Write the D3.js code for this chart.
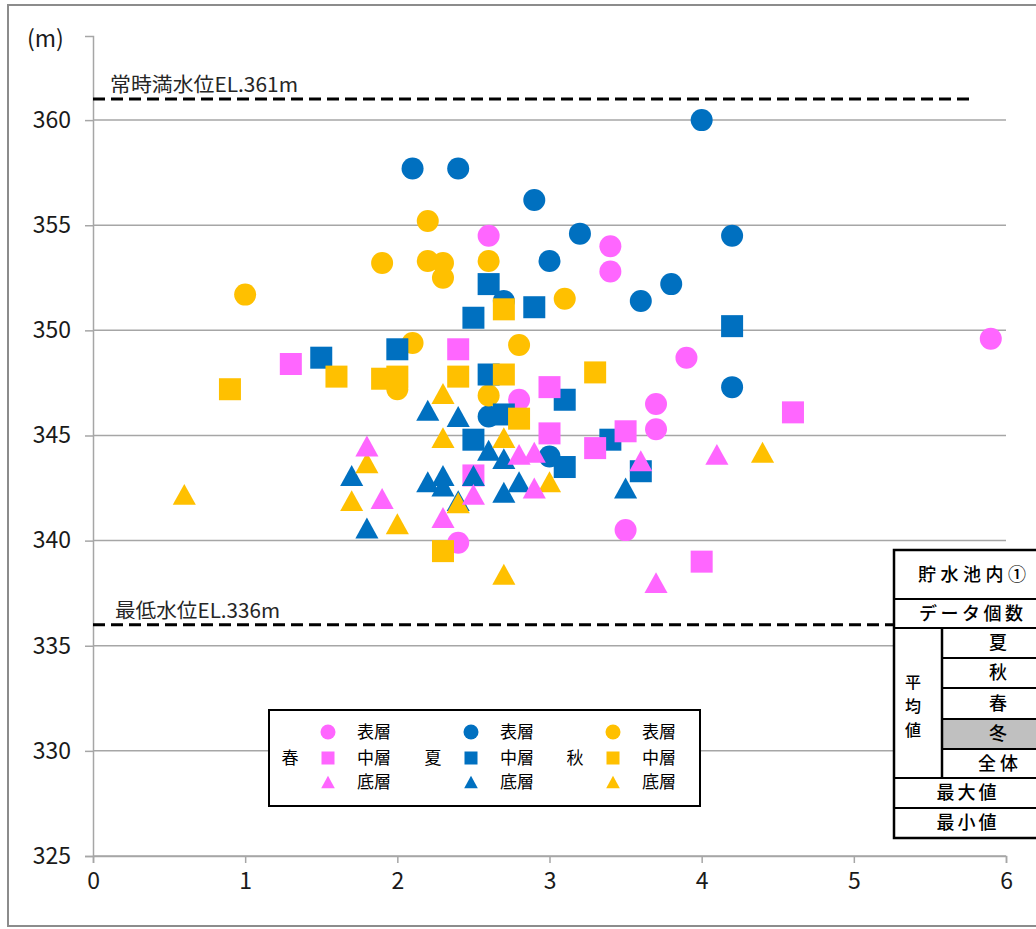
<!DOCTYPE html>
<html><head><meta charset="utf-8">
<script src="https://cdn.jsdelivr.net/npm/d3@7"></script>
<style>html,body{margin:0;padding:0;background:#fff;}svg{display:block;font-family:"Noto Sans CJK JP","Noto Sans",sans-serif;}</style>
</head><body>
<svg id="c" width="1036" height="929"></svg>
<script>
// ---- data ----
const xTicks = [0, 1, 2, 3, 4, 5, 6];
const yTicks = [325, 330, 335, 340, 345, 350, 355, 360];
const yUnit = "(m)";
const refLevels = [361, 336];
const refLabels = ["常時満水位EL.361m", "最低水位EL.336m"];

const seasons = ["春", "夏", "秋"];
const layers = ["表層", "中層", "底層"];

// spring (春)
const springSurface = [[2.6,354.5],[3.4,354.0],[3.4,352.8],[3.9,348.7],[5.9,349.6],[3.7,346.5],[3.7,345.3],[2.8,346.7],[3.5,340.5],[2.4,339.9]];
const springMiddle  = [[1.3,348.4],[2.4,349.1],[3.0,347.3],[3.0,345.1],[3.5,345.2],[3.3,344.4],[2.5,343.1],[4.0,339.0],[4.6,346.1]];
const springBottom  = [[1.8,344.5],[1.9,342.0],[2.3,341.1],[2.5,342.2],[2.8,344.1],[2.9,344.2],[2.9,342.5],[3.6,343.8],[4.1,344.1],[3.7,338.0]];
// summer (夏)
const summerSurface = [[2.1,357.7],[2.4,357.7],[2.9,356.2],[3.2,354.6],[3.0,353.3],[4.0,360.0],[4.2,354.5],[3.8,352.2],[3.6,351.4],[4.2,347.3],[2.7,351.4],[2.6,345.9],[3.0,344.0]];
const summerMiddle  = [[2.6,352.2],[2.5,350.6],[2.9,351.1],[2.0,349.1],[1.5,348.7],[4.2,350.2],[2.6,347.9],[2.5,344.8],[3.1,346.7],[3.4,344.8],[3.6,343.3],[3.1,343.5],[2.7,346.0]];
const summerBottom  = [[1.7,343.1],[1.8,340.6],[2.2,346.2],[2.4,345.9],[2.2,342.8],[2.3,343.1],[2.3,342.6],[2.5,343.1],[2.6,344.3],[2.7,343.9],[2.7,342.3],[2.8,342.8],[2.4,341.9],[3.5,342.5]];
// autumn (秋)
const autumnSurface = [[1.0,351.7],[1.9,353.2],[2.2,355.2],[2.2,353.3],[2.3,353.2],[2.3,352.5],[2.6,353.3],[3.1,351.5],[2.1,349.4],[2.8,349.3],[2.0,347.2],[2.6,346.9]];
const autumnMiddle  = [[0.9,347.2],[1.6,347.8],[1.9,347.7],[2.0,347.8],[2.4,347.8],[2.7,347.9],[2.7,351.0],[3.3,348.0],[2.8,345.8],[2.3,339.5]];
const autumnBottom  = [[0.6,342.2],[1.8,343.7],[1.7,341.9],[2.0,340.8],[2.3,347.0],[2.3,344.9],[2.7,344.9],[2.4,341.8],[3.0,342.8],[2.7,338.4],[4.4,344.2]];

const tableTitle = "貯水池内①";
const tableCount = "データ個数";
const tableAvg = ["平","均","値"];
const tableAvgRows = ["夏", "秋", "春", "冬", "全体"];
const tableMax = "最大値";
const tableMin = "最小値";

// ---- styles ----
const colors = {"春": "#FF66FF", "夏": "#0070C0", "秋": "#FFC000"};
const font = '"Noto Sans CJK JP","Noto Sans",sans-serif';

const svg = d3.select("#c");
svg.append("rect").attr("width", 1036).attr("height", 929).attr("fill", "#fff");
// outer chart border
svg.append("rect").attr("x", 8).attr("y", 5).attr("width", 1040).attr("height", 921)
  .attr("fill", "none").attr("stroke", "#8c8c8c").attr("stroke-width", 2);

const x = d3.scaleLinear().domain([0, 6]).range([93, 1006]);
const y = d3.scaleLinear().domain([325, 364]).range([856, 36]);

// gridlines
svg.append("g").selectAll("line").data(yTicks).join("line")
  .attr("x1", x(0)).attr("x2", x(6)).attr("y1", d => y(d)).attr("y2", d => y(d))
  .attr("stroke", "#a6a6a6").attr("stroke-width", 1.5);

// y axis
const yAxis = svg.append("g").attr("transform", `translate(${x(0)},0)`)
  .call(d3.axisLeft(y).tickValues(yTicks).tickSize(8).tickPadding(14).tickFormat(d3.format("d")));
yAxis.select(".domain").attr("stroke", "#a6a6a6").attr("stroke-width", 1.5);
yAxis.selectAll(".tick line").attr("stroke", "#a6a6a6").attr("stroke-width", 1.5);
yAxis.selectAll(".tick text").attr("font-family", font).attr("font-size", 23).attr("fill", "#1a1a1a");

// x axis
const xAxis = svg.append("g").attr("transform", `translate(0,${y(325)})`)
  .call(d3.axisBottom(x).tickValues(xTicks).tickSize(7).tickPadding(10).tickFormat(d3.format("d")));
xAxis.select(".domain").attr("stroke", "#a6a6a6").attr("stroke-width", 1.5);
xAxis.selectAll(".tick line").attr("stroke", "#a6a6a6").attr("stroke-width", 1.5);
xAxis.selectAll(".tick text").attr("font-family", font).attr("font-size", 23).attr("fill", "#1a1a1a");

// unit label
svg.append("text").attr("x", 27).attr("y", 47).attr("font-size", 23).attr("fill", "#1a1a1a")
  .attr("font-family", font).text(yUnit);

// reference dashed lines
const refLabelX = [110, 115];
const refLabelW = [188, 165];
refLevels.forEach((lv, i) => {
  svg.append("line").attr("x1", x(0)).attr("x2", 969).attr("y1", y(lv)).attr("y2", y(lv))
    .attr("stroke", "#000").attr("stroke-width", 3).attr("stroke-dasharray", "12,6");
  svg.append("text").attr("x", refLabelX[i]).attr("y", y(lv) - 7)
    .attr("font-size", 20).attr("font-family", font).attr("fill", "#262626")
    .attr("textLength", refLabelW[i]).attr("lengthAdjust", "spacingAndGlyphs")
    .text(refLabels[i]);
});

// markers
function marker(g, shape, cx, cy, s, color) {
  if (shape === 0) {
    g.append("circle").attr("cx", cx).attr("cy", cy).attr("r", s / 2).attr("fill", color);
  } else if (shape === 1) {
    g.append("rect").attr("x", cx - s / 2).attr("y", cy - s / 2).attr("width", s).attr("height", s).attr("fill", color);
  } else {
    const h = s * 0.95, w = s * 1.05;
    g.append("path").attr("d", `M${cx},${cy - h / 2}L${cx + w / 2},${cy + h / 2}L${cx - w / 2},${cy + h / 2}Z`).attr("fill", color);
  }
}

const seriesData = {
  "春": [springSurface, springMiddle, springBottom],
  "夏": [summerSurface, summerMiddle, summerBottom],
  "秋": [autumnSurface, autumnMiddle, autumnBottom]
};
const drawOrder = ["夏", "秋", "春"];
const pts = svg.append("g");
[0, 1, 2].forEach(li => {
  drawOrder.forEach(se => {
    seriesData[se][li].forEach(d => marker(pts, li, x(d[0]), y(d[1]), 22, colors[se]));
  });
});

// legend
const lg = svg.append("g");
lg.append("rect").attr("x", 269).attr("y", 710).attr("width", 431).attr("height", 96)
  .attr("fill", "#fff").attr("stroke", "#000").attr("stroke-width", 2);
const lgSeasonX = [290, 433, 575];
const lgMarkX = [328, 471, 613];
const lgTextX = [357, 500, 642];
const lgRowY = [732, 758, 782];
seasons.forEach((se, i) => {
  lg.append("text").attr("x", lgSeasonX[i]).attr("y", 758).attr("dy", "0.36em").attr("text-anchor", "middle")
    .attr("font-size", 17).attr("font-family", font).attr("fill", "#000").text(se);
  layers.forEach((la, j) => {
    marker(lg, j, lgMarkX[i], lgRowY[j], j === 0 ? 15 : 13, colors[se]);
    lg.append("text").attr("x", lgTextX[i]).attr("y", lgRowY[j]).attr("dy", "0.36em")
      .attr("font-size", 17).attr("font-family", font).attr("fill", "#000").text(la);
  });
});

// table
const tb = svg.append("g");
const tL = 894, tR = 1060, tSub = 942;
const rowY = [550, 599, 628, 658, 688, 719, 749, 778, 808, 838];
tb.append("rect").attr("x", tL).attr("y", rowY[0]).attr("width", tR - tL).attr("height", rowY[9] - rowY[0])
  .attr("fill", "#fff");
tb.append("rect").attr("x", tSub).attr("y", rowY[5]).attr("width", tR - tSub).attr("height", rowY[6] - rowY[5])
  .attr("fill", "#c0c0c0");
tb.append("rect").attr("x", tL).attr("y", rowY[0]).attr("width", tR - tL).attr("height", rowY[9] - rowY[0])
  .attr("fill", "none").attr("stroke", "#000").attr("stroke-width", 2.5);
[1, 2, 7, 8].forEach(i => tb.append("line").attr("x1", tL).attr("x2", tR).attr("y1", rowY[i]).attr("y2", rowY[i])
  .attr("stroke", "#000").attr("stroke-width", 2));
[3, 4, 5, 6].forEach(i => tb.append("line").attr("x1", tSub).attr("x2", tR).attr("y1", rowY[i]).attr("y2", rowY[i])
  .attr("stroke", "#000").attr("stroke-width", 2));
tb.append("line").attr("x1", tSub).attr("x2", tSub).attr("y1", rowY[2]).attr("y2", rowY[7])
  .attr("stroke", "#000").attr("stroke-width", 2.5);

function ttext(t, cx, cy, ls, anchor, fs) {
  return tb.append("text").attr("x", cx).attr("y", cy).attr("dy", "0.36em").attr("text-anchor", anchor || "middle")
    .attr("font-size", fs || 18).attr("font-weight", 500).attr("font-family", font).attr("fill", "#000")
    .attr("letter-spacing", ls).text(t);
}
ttext(tableTitle, 918, (rowY[0] + rowY[1]) / 2, 4.5, "start");
ttext(tableCount, 919, (rowY[1] + rowY[2]) / 2, 3.5, "start");
// vertical label, one character per line
tableAvg.forEach((c, i) => ttext(c, 913, 682 + i * 24, 0, "middle", 16));
tableAvgRows.forEach((t, i) => ttext(t, t.length > 1 ? 1000 : 998, (rowY[2 + i] + rowY[3 + i]) / 2, t.length > 1 ? 4 : 0));
ttext(tableMax, 968, (rowY[7] + rowY[8]) / 2, 3);
ttext(tableMin, 968, (rowY[8] + rowY[9]) / 2, 3);
</script>
</body></html>
